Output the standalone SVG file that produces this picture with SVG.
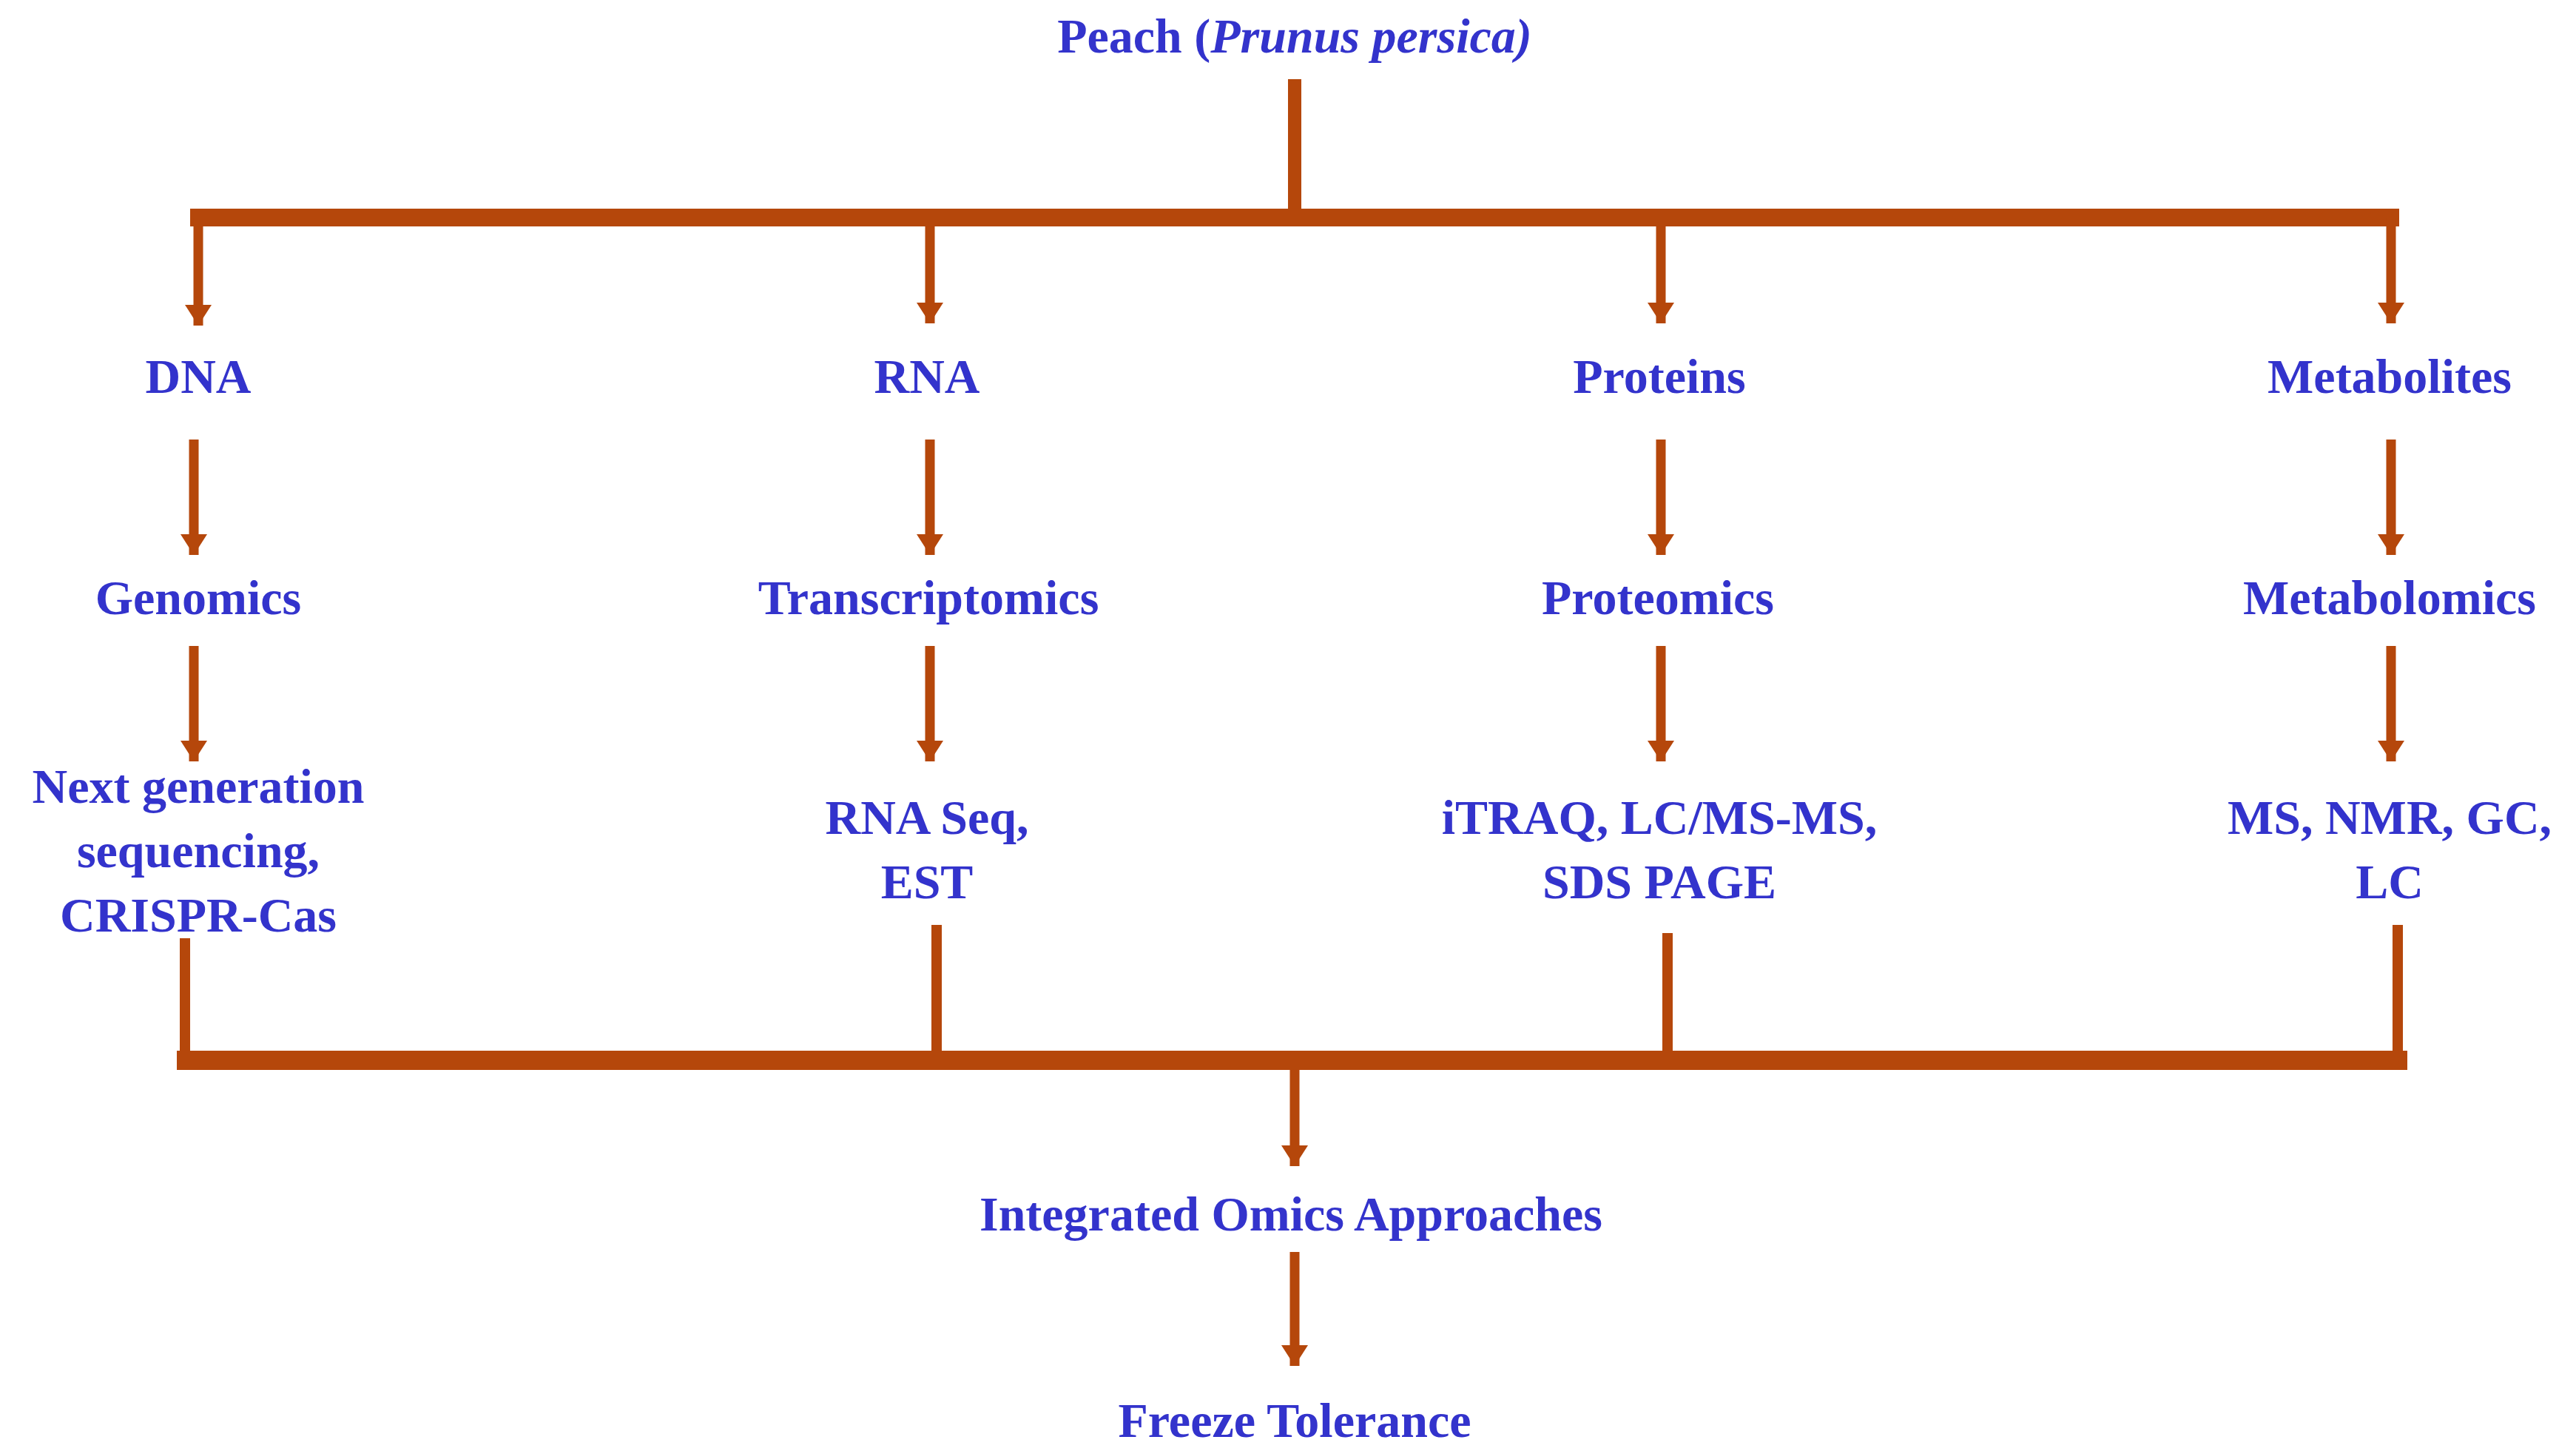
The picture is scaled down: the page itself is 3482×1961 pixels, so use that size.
<svg xmlns="http://www.w3.org/2000/svg" width="3482" height="1961" viewBox="0 0 3482 1961">
<style>
text{font-family:"Liberation Serif","Times New Roman",serif;font-weight:bold;font-size:66px;fill:#3333CC;text-anchor:middle}
.l{stroke:#B5470B;fill:none}
.a{stroke:#B5470B;stroke-width:13;fill:none}
</style>
<defs>
<marker id="ah" markerUnits="userSpaceOnUse" markerWidth="40" markerHeight="30" refX="18" refY="28" orient="auto" viewBox="0 0 36 30">
<path d="M0,0 L36,0 L18,28 Z" fill="#B5470B" transform="rotate(-90 18 18) translate(0,0)"/>
</marker>
<marker id="ar" markerUnits="userSpaceOnUse" markerWidth="30" markerHeight="38" refX="28" refY="18" orient="auto" viewBox="0 0 30 36">
<path d="M0,0 L28,18 L0,36 Z" fill="#B5470B"/>
</marker>
</defs>
<rect width="3482" height="1961" fill="#fff"/>
<g id="connectors">
<line class="l" x1="1750" y1="107" x2="1750" y2="290" stroke-width="18"/>
<polyline class="l" points="257,432 257,294 3243,294 3243,432" stroke-width="0"/>
<line class="l" x1="257" y1="294" x2="3243" y2="294" stroke-width="24"/>
<line class="a" x1="268" y1="294" x2="268" y2="440" marker-end="url(#ar)"/>
<line class="a" x1="1257" y1="306" x2="1257" y2="437" marker-end="url(#ar)"/>
<line class="a" x1="2245" y1="306" x2="2245" y2="437" marker-end="url(#ar)"/>
<line class="a" x1="3232" y1="294" x2="3232" y2="437" marker-end="url(#ar)"/>
<line class="a" x1="262" y1="594" x2="262" y2="750" marker-end="url(#ar)"/>
<line class="a" x1="1257" y1="594" x2="1257" y2="750" marker-end="url(#ar)"/>
<line class="a" x1="2245" y1="594" x2="2245" y2="750" marker-end="url(#ar)"/>
<line class="a" x1="3232" y1="594" x2="3232" y2="750" marker-end="url(#ar)"/>
<line class="a" x1="262" y1="873" x2="262" y2="1029" marker-end="url(#ar)"/>
<line class="a" x1="1257" y1="873" x2="1257" y2="1029" marker-end="url(#ar)"/>
<line class="a" x1="2245" y1="873" x2="2245" y2="1029" marker-end="url(#ar)"/>
<line class="a" x1="3232" y1="873" x2="3232" y2="1029" marker-end="url(#ar)"/>
<line class="l" x1="250" y1="1268" x2="250" y2="1433" stroke-width="14"/>
<line class="l" x1="1266" y1="1250" x2="1266" y2="1433" stroke-width="14"/>
<line class="l" x1="2254" y1="1261" x2="2254" y2="1433" stroke-width="14"/>
<line class="l" x1="3241" y1="1250" x2="3241" y2="1433" stroke-width="14"/>
<line class="l" x1="239" y1="1433" x2="3254" y2="1433" stroke-width="26"/>
<line class="a" x1="1750" y1="1446" x2="1750" y2="1576" marker-end="url(#ar)"/>
<line class="a" x1="1750" y1="1692" x2="1750" y2="1846" marker-end="url(#ar)"/>
</g>
<g id="peach"><text x="1750" y="71">Peach (<tspan font-style="italic">Prunus persica)</tspan></text></g>
<g id="dna"><text x="268" y="531">DNA</text></g>
<g id="rna"><text x="1253" y="531">RNA</text></g>
<g id="proteins"><text x="2243" y="531">Proteins</text></g>
<g id="metabolites"><text x="3230" y="531">Metabolites</text></g>
<g id="genomics"><text x="268" y="830">Genomics</text></g>
<g id="transcriptomics"><text x="1255" y="830">Transcriptomics</text></g>
<g id="proteomics"><text x="2241" y="830">Proteomics</text></g>
<g id="metabolomics"><text x="3230" y="830">Metabolomics</text></g>
<g id="ngs"><text x="268" y="1085">Next generation</text><text x="268" y="1172">sequencing,</text><text x="268" y="1259">CRISPR-Cas</text></g>
<g id="rnaseq"><text x="1253" y="1127">RNA Seq,</text><text x="1253" y="1214">EST</text></g>
<g id="itraq"><text x="2243" y="1127">iTRAQ, LC/MS-MS,</text><text x="2243" y="1214">SDS PAGE</text></g>
<g id="ms"><text x="3230" y="1127">MS, NMR, GC,</text><text x="3230" y="1214">LC</text></g>
<g id="integrated"><text x="1745" y="1663">Integrated Omics Approaches</text></g>
<g id="freeze"><text x="1750" y="1942">Freeze Tolerance</text></g>
</svg>
